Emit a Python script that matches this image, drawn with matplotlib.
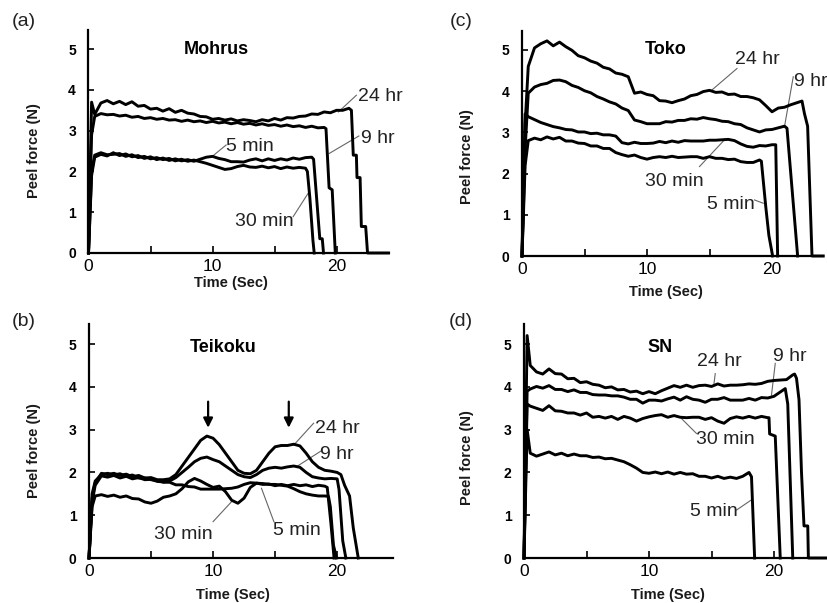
import matplotlib
matplotlib.use("Agg")
import matplotlib.pyplot as plt

plt.rcParams['font.family'] = ['Liberation Sans', 'DejaVu Sans']

# sampling grid (sec) for the plateau part of every trace
t_grid = [0, 0.25, 0.5,
          1.0, 1.5, 2.0, 2.5, 3.0, 3.5, 4.0, 4.5, 5.0, 5.5, 6.0, 6.5,
          7.0, 7.5, 8.0, 8.5, 9.0, 9.5, 10.0, 10.5, 11.0, 11.5, 12.0, 12.5,
          13.0, 13.5, 14.0, 14.5, 15.0, 15.5, 16.0, 16.5, 17.0, 17.5, 18.0, 18.5,
          19.0, 19.5, 20.0, 20.5, 21.0, 21.5, 22.0, 22.5]

# ---- (a) Mohrus ----
mohrus_24hr = [0, 3.7, 3.4,
               3.68, 3.74, 3.66, 3.72,
               3.64, 3.71, 3.6, 3.62,
               3.53, 3.55, 3.48, 3.54,
               3.45, 3.5, 3.43, 3.41,
               3.35, 3.34, 3.28, 3.3,
               3.26, 3.29, 3.24, 3.27,
               3.25, 3.22, 3.27, 3.24,
               3.3, 3.26, 3.32, 3.31,
               3.35, 3.36, 3.41, 3.4,
               3.46, 3.44, 3.5, 3.5,
               3.55]
mohrus_24hr_tail_t = [21.2, 21.35, 21.6, 21.65, 21.9, 22.0, 22.35, 22.5, 24.2]
mohrus_24hr_tail_f = [3.5, 2.4, 2.4, 1.85, 1.85, 0.65, 0.65, 0, 0]

mohrus_9hr = [0, 2.9, 3.35,
              3.42, 3.39, 3.4, 3.36,
              3.38, 3.33, 3.35, 3.3,
              3.32, 3.28, 3.3, 3.26,
              3.27, 3.23, 3.26, 3.22,
              3.24, 3.2, 3.23, 3.19,
              3.21, 3.17, 3.2, 3.16,
              3.18, 3.14, 3.17, 3.13,
              3.15, 3.11, 3.14, 3.1,
              3.12, 3.08, 3.11, 3.07,
              3.08]
mohrus_9hr_tail_t = [19.15, 19.4, 19.65, 19.9]
mohrus_9hr_tail_f = [3.05, 1.6, 1.55, 0]

mohrus_5min = [0, 1.9, 2.35,
               2.42, 2.38, 2.46, 2.39,
               2.43, 2.36, 2.39, 2.32,
               2.36, 2.29, 2.33, 2.27,
               2.31, 2.26, 2.29, 2.25,
               2.3, 2.35, 2.37, 2.32,
               2.29, 2.24, 2.24, 2.23,
               2.28, 2.31, 2.26, 2.31,
               2.27, 2.31, 2.28, 2.33,
               2.3, 2.34, 2.35]
mohrus_5min_tail_t = [18.15, 18.65, 18.85, 18.95]
mohrus_5min_tail_f = [2.3, 0.35, 0.35, 0]

mohrus_30min = [0, 2.0, 2.4,
                2.46, 2.41, 2.42, 2.44,
                2.37, 2.41, 2.34, 2.37,
                2.31, 2.34, 2.29, 2.32,
                2.26, 2.3, 2.25, 2.28,
                2.24, 2.2, 2.15, 2.1,
                2.05, 2.07, 2.12, 2.15,
                2.11, 2.1, 2.13, 2.09,
                2.12, 2.07, 2.11, 2.08,
                2.1, 2.08]
mohrus_30min_tail_t = [17.65, 17.85, 18.1, 18.2]
mohrus_30min_tail_f = [2.0, 1.35, 0.3, 0]

# ---- (c) Toko ----
toko_24hr = [0, 3.2, 4.6,
             5.05, 5.15, 5.22, 5.1,
             5.19, 5.08, 4.99, 4.86,
             4.81, 4.73, 4.68, 4.58,
             4.54, 4.44, 4.41, 4.35,
             3.95, 3.98, 3.92, 3.89,
             3.77, 3.76, 3.72, 3.77,
             3.81, 3.89, 3.92, 3.99,
             4.02, 3.97, 3.98, 3.92,
             3.93, 3.87, 3.87, 3.84,
             3.79, 3.65, 3.5, 3.59,
             3.61, 3.67, 3.72]
toko_24hr_tail_t = [22.4, 22.6, 22.85, 23.2, 24.1]
toko_24hr_tail_f = [3.76, 3.45, 3.15, 0, 0]

toko_9hr = [0, 2.6, 3.95,
            4.1, 4.16, 4.19, 4.26,
            4.27, 4.23, 4.14, 4.09,
            4.01, 3.96, 3.87, 3.81,
            3.74, 3.69, 3.59, 3.53,
            3.3, 3.26, 3.21, 3.21,
            3.21, 3.26, 3.25, 3.29,
            3.29, 3.33, 3.32, 3.36,
            3.33, 3.31, 3.27, 3.26,
            3.21, 3.19, 3.11, 3.06,
            3.01, 3.06, 3.07, 3.11,
            3.15]
toko_9hr_tail_t = [21.2, 22.05]
toko_9hr_tail_f = [3.1, 0]

toko_30min = [0, 3.45, 3.38,
              3.31, 3.24, 3.19, 3.14,
              3.11, 3.07, 3.06, 3.01,
              3.01, 2.97, 2.98, 2.94,
              2.94, 2.91, 2.75, 2.72,
              2.76, 2.73, 2.73, 2.74,
              2.78, 2.75, 2.79, 2.76,
              2.8, 2.79, 2.79, 2.79,
              2.81, 2.81, 2.82, 2.83,
              2.8, 2.72, 2.66, 2.64,
              2.68, 2.67, 2.7]
toko_30min_tail_t = [20.3, 20.45]
toko_30min_tail_f = [2.7, 0]

toko_5min = [0, 2.2, 2.8,
             2.86, 2.82, 2.89, 2.84,
             2.88, 2.79, 2.79, 2.74,
             2.73, 2.67, 2.67, 2.61,
             2.61, 2.51, 2.46, 2.42,
             2.45, 2.39, 2.35, 2.39,
             2.41, 2.39, 2.42, 2.39,
             2.4, 2.41, 2.41, 2.37,
             2.41, 2.37, 2.37, 2.34,
             2.35, 2.29, 2.27, 2.27,
             2.33]
toko_5min_tail_t = [19.15, 19.5, 19.75, 20.05]
toko_5min_tail_f = [2.3, 1.2, 0.5, 0]

# ---- (b) Teikoku ----
teikoku_24hr = [0, 1.4, 1.75,
                1.98, 1.95, 1.98, 1.93,
                1.96, 1.9, 1.93, 1.87,
                1.88, 1.83, 1.83, 1.85,
                1.95, 2.15, 2.35, 2.55,
                2.75, 2.85, 2.8, 2.65,
                2.45, 2.25, 2.05, 1.98,
                1.97, 2.05, 2.25, 2.45,
                2.6, 2.63, 2.63, 2.66,
                2.62, 2.45, 2.25, 2.12,
                2.05, 2.03, 2.0]
teikoku_24hr_tail_t = [20.3, 20.6, 21.0, 21.3, 21.7]
teikoku_24hr_tail_f = [1.95, 1.7, 1.45, 0.7, 0]

teikoku_9hr = [0, 1.3, 1.7,
               1.92, 1.89, 1.93, 1.87,
               1.91, 1.85, 1.88, 1.83,
               1.84, 1.79, 1.78, 1.8,
               1.88, 2.0, 2.12, 2.25,
               2.33, 2.36, 2.3, 2.25,
               2.15, 2.05, 1.95, 1.9,
               1.88, 1.95, 2.05, 2.1,
               2.12, 2.1, 2.13, 2.15,
               2.12, 2.0, 1.9, 1.87,
               1.85, 1.86, 1.85]
teikoku_9hr_tail_t = [20.15, 20.45, 20.7]
teikoku_9hr_tail_f = [1.6, 0.4, 0]

teikoku_30min = [0, 1.2, 1.45,
                 1.48, 1.44, 1.47, 1.42,
                 1.45, 1.39, 1.38, 1.31,
                 1.28, 1.33, 1.42, 1.45,
                 1.5, 1.62, 1.78, 1.86,
                 1.8, 1.72, 1.65, 1.68,
                 1.55, 1.35, 1.28, 1.4,
                 1.65, 1.75, 1.72, 1.73,
                 1.69, 1.72, 1.69, 1.72,
                 1.69, 1.71, 1.67, 1.7,
                 1.68]
teikoku_30min_tail_t = [19.2, 19.5, 19.75]
teikoku_30min_tail_f = [1.65, 0.8, 0]

teikoku_5min = [0, 1.5, 1.8,
                1.95, 1.98, 1.94, 1.97,
                1.91, 1.94, 1.87, 1.87,
                1.83, 1.81, 1.77, 1.77,
                1.71, 1.71, 1.67, 1.66,
                1.61, 1.61, 1.61, 1.61,
                1.62, 1.63, 1.66, 1.72,
                1.76, 1.75, 1.74, 1.72,
                1.72, 1.7, 1.68, 1.62,
                1.55, 1.5, 1.47, 1.45,
                1.45]
teikoku_5min_tail_t = [19.3, 19.45, 19.7, 19.95]
teikoku_5min_tail_f = [1.44, 1.2, 0.3, 0]

teikoku_arrow_t = [9.6, 16.1]

# ---- (d) SN ----
sn_24hr = [0, 5.2, 4.5,
           4.35, 4.3, 4.42, 4.31,
           4.3, 4.19, 4.2, 4.1,
           4.12, 4.06, 4.04, 3.98,
           4.0, 3.93, 3.94, 3.88,
           3.9, 3.84, 3.89, 3.84,
           3.91, 3.97, 4.03, 3.99,
           4.04, 3.99, 4.03, 4.04,
           4.01, 4.07, 4.02, 4.04,
           4.04, 4.05, 4.07, 4.06,
           4.08, 4.13, 4.15, 4.16,
           4.17, 4.28]
sn_24hr_tail_t = [21.65, 21.8, 22.0, 22.2, 22.4, 22.7, 22.75, 24.2]
sn_24hr_tail_f = [4.3, 4.2, 3.7, 2.0, 0.75, 0.75, 0, 0]

sn_9hr = [0, 3.9, 3.95,
          4.01, 3.97, 4.03, 3.94,
          3.94, 3.89, 3.93, 3.87,
          3.87, 3.82, 3.81, 3.81,
          3.79, 3.79, 3.76, 3.71,
          3.71, 3.62, 3.69, 3.69,
          3.67, 3.72, 3.76, 3.69,
          3.77, 3.71, 3.69, 3.64,
          3.71, 3.71, 3.75, 3.69,
          3.69, 3.69, 3.73, 3.69,
          3.75, 3.74, 3.78, 3.88]
sn_9hr_tail_t = [20.9, 21.1, 21.5]
sn_9hr_tail_f = [3.96, 3.6, 0]

sn_30min = [0, 3.6, 3.55,
            3.5, 3.45, 3.56, 3.44,
            3.43, 3.39, 3.39, 3.34,
            3.39, 3.29, 3.31, 3.27,
            3.31, 3.24, 3.31, 3.27,
            3.2, 3.26, 3.3, 3.33,
            3.35, 3.29, 3.33, 3.29,
            3.28, 3.29, 3.29, 3.24,
            3.28, 3.2, 3.15, 3.26,
            3.3, 3.27, 3.31, 3.27,
            3.31, 3.28]
sn_30min_tail_t = [19.6, 19.65, 20.1, 20.5]
sn_30min_tail_f = [3.28, 2.9, 2.85, 0]

sn_5min = [0, 3.0, 2.45,
           2.38, 2.43, 2.48, 2.41,
           2.45, 2.39, 2.43, 2.39,
           2.39, 2.35, 2.36, 2.32,
           2.33, 2.29, 2.25, 2.18,
           2.1, 2.0, 1.98, 2.01,
           1.97, 2.01, 1.96, 2.0,
           1.96, 1.97, 1.91, 1.91,
           1.87, 1.91, 1.86, 1.89,
           1.86, 1.91, 2.0]
sn_5min_tail_t = [18.2, 18.45]
sn_5min_tail_f = [1.9, 0]

# curve labels: text, text position (t, F), leader from (t, F) to (t, F)
label_names = ['24 hr', '9 hr', '5 min', '30 min']
mohrus_label_xy = [(23.5, 3.85), (23.3, 2.81), (13.0, 2.62), (14.2, 0.77)]
mohrus_leaders = [((21.6, 3.87), (20.15, 3.46)), ((21.8, 2.87), (19.4, 2.44)),
                  ((11.1, 2.65), (9.9, 2.35)), ((16.5, 0.89), (17.7, 1.46))]
toko_label_xy = [(18.8, 4.76), (23.1, 4.23), (16.7, 1.26), (12.2, 1.80)]
toko_leaders = [((17.2, 4.55), (15.2, 4.03)), ((21.7, 4.35), (21.0, 3.14)),
                ((18.6, 1.36), (19.3, 1.28)), ((14.2, 2.17), (16.2, 2.82))]
teikoku_label_xy = [(20.0, 3.03), (20.0, 2.41), (16.75, 0.65), (7.6, 0.54)]
teikoku_leaders = [((18.1, 3.15), (16.5, 2.64)), ((18.8, 2.52), (16.7, 2.13)),
                   ((14.9, 0.85), (13.9, 1.63)), ((10.0, 0.85), (11.5, 1.32))]
sn_label_xy = [(15.6, 4.59), (21.3, 4.70), (15.2, 1.08), (16.1, 2.76)]
sn_leaders = [((15.3, 4.31), (15.2, 4.08)), ((20.1, 4.55), (19.8, 3.81)),
              ((17.0, 1.12), (18.2, 1.36)), ((13.8, 2.91), (12.6, 3.26))]

W, H = 828, 603
fig = plt.figure(figsize=(W / 100, H / 100), dpi=100)


def make_axes(left, right, top, bottom, xmax, ymax):
    ax = fig.add_axes([left / W, 1 - bottom / H, (right - left) / W, (bottom - top) / H])
    ax.set_xlim(0, xmax)
    ax.set_ylim(0, ymax)
    for s in ['top', 'right']:
        ax.spines[s].set_visible(False)
    for s in ['left', 'bottom']:
        ax.spines[s].set_linewidth(1.6)
    ax.set_xticks([0, 5, 10, 15, 20])
    ax.set_xticklabels(['0', '', '10', '', '20'], fontsize=12.5)
    ax.set_yticks([0, 1, 2, 3, 4, 5])
    ax.set_yticklabels(['0', '1', '2', '3', '4', '5'], fontsize=10, fontweight='bold')
    ax.tick_params(axis='x', direction='in', length=5, width=1.2, pad=4)
    ax.tick_params(axis='y', direction='in', length=4, width=1.2, pad=9)
    ax.set_xlabel('Time (Sec)', fontsize=10.5, fontweight='bold', color='#1a1a1a')
    ax.set_ylabel('Peel force (N)', fontsize=10.5, fontweight='bold', color='#1a1a1a')
    return ax


def trace(ax, vals, tail_t, tail_f):
    t = t_grid[:len(vals)] + tail_t
    f = vals + tail_f
    ax.plot(t, f, color='black', lw=2.1, clip_on=False, zorder=3)


def labels(ax, xy, leaders):
    for name, (tx, ty), (p0, p1) in zip(label_names, xy, leaders):
        ax.text(tx, ty, name, fontsize=14, color='#222222', ha='center', va='center')
        ax.plot([p0[0], p1[0]], [p0[1], p1[1]], color='#666666', lw=0.8, zorder=2)


# (a) Mohrus
ax_a = make_axes(88.5, 388, 30, 253, 24.15, 5.47)
trace(ax_a, mohrus_24hr, mohrus_24hr_tail_t, mohrus_24hr_tail_f)
trace(ax_a, mohrus_9hr, mohrus_9hr_tail_t, mohrus_9hr_tail_f)
trace(ax_a, mohrus_5min, mohrus_5min_tail_t, mohrus_5min_tail_f)
trace(ax_a, mohrus_30min, mohrus_30min_tail_t, mohrus_30min_tail_f)
labels(ax_a, mohrus_label_xy, mohrus_leaders)
ax_a.xaxis.set_label_coords(0.474, -0.105)
ax_a.yaxis.set_label_coords(-0.158, 0.46)

# (c) Toko
ax_c = make_axes(522, 823, 31, 256, 24.08, 5.46)
trace(ax_c, toko_24hr, toko_24hr_tail_t, toko_24hr_tail_f)
trace(ax_c, toko_9hr, toko_9hr_tail_t, toko_9hr_tail_f)
trace(ax_c, toko_30min, toko_30min_tail_t, toko_30min_tail_f)
trace(ax_c, toko_5min, toko_5min_tail_t, toko_5min_tail_f)
labels(ax_c, toko_label_xy, toko_leaders)
ax_c.xaxis.set_label_coords(0.477, -0.128)
ax_c.yaxis.set_label_coords(-0.16, 0.44)

# (b) Teikoku
ax_b = make_axes(89, 393, 324, 558, 24.5, 5.47)
trace(ax_b, teikoku_24hr, teikoku_24hr_tail_t, teikoku_24hr_tail_f)
trace(ax_b, teikoku_9hr, teikoku_9hr_tail_t, teikoku_9hr_tail_f)
trace(ax_b, teikoku_30min, teikoku_30min_tail_t, teikoku_30min_tail_f)
trace(ax_b, teikoku_5min, teikoku_5min_tail_t, teikoku_5min_tail_f)
ax_b.plot([teikoku_24hr_tail_t[-1], 24.4], [0, 0], color='black', lw=1.2, ls=':', clip_on=False)
labels(ax_b, teikoku_label_xy, teikoku_leaders)
for at in teikoku_arrow_t:
    ax_b.annotate('', xy=(at, 2.98), xytext=(at, 3.72),
                  arrowprops=dict(arrowstyle='-|>', color='black', lw=1.6, mutation_scale=14))
ax_b.xaxis.set_label_coords(0.474, -0.128)
ax_b.yaxis.set_label_coords(-0.158, 0.46)

# (d) SN
ax_d = make_axes(524, 826, 324, 558, 24.16, 5.47)
trace(ax_d, sn_24hr, sn_24hr_tail_t, sn_24hr_tail_f)
trace(ax_d, sn_9hr, sn_9hr_tail_t, sn_9hr_tail_f)
trace(ax_d, sn_30min, sn_30min_tail_t, sn_30min_tail_f)
trace(ax_d, sn_5min, sn_5min_tail_t, sn_5min_tail_f)
labels(ax_d, sn_label_xy, sn_leaders)
ax_d.xaxis.set_label_coords(0.477, -0.128)
ax_d.yaxis.set_label_coords(-0.166, 0.43)

# panel titles and letters
titles = ['Mohrus', 'Toko', 'Teikoku', 'SN']
title_px = [(216, 49), (666, 50), (223, 348), (660, 348)]
for name, (px, py) in zip(titles, title_px):
    fig.text(px / W, 1 - py / H, name, fontsize=13, fontweight='bold', ha='center', va='center')

panel_letters = ['(a)', '(c)', '(b)', '(d)']
letter_px = [(24, 22), (461, 21), (24, 322), (461, 321)]
for name, (px, py) in zip(panel_letters, letter_px):
    fig.text(px / W, 1 - py / H, name, fontsize=14, ha='center', va='center', color='#222222')

fig.savefig('out.png', dpi=100)
